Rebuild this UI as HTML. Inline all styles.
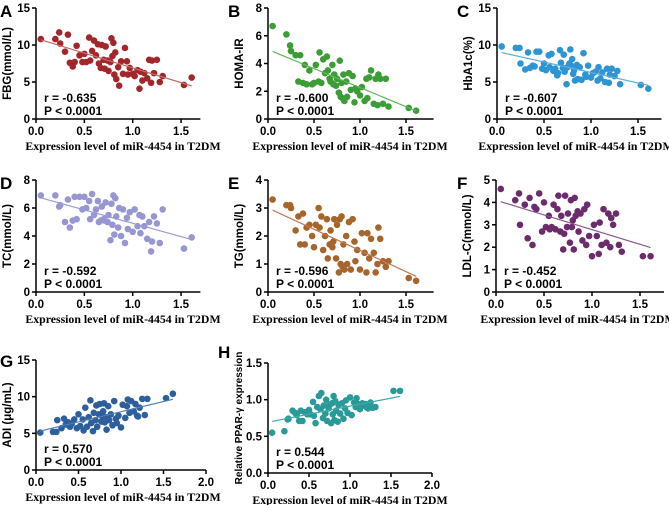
<!DOCTYPE html>
<html><head><meta charset="utf-8"><style>
body{margin:0;background:#fff;}
svg{display:block;}
</style></head><body>
<svg id="fig" width="669" height="505" viewBox="0 0 669 505" xmlns="http://www.w3.org/2000/svg" font-family="Liberation Sans, Arial, sans-serif"></svg>
<script>
const xs=[0.05,0.2,0.24,0.25,0.3,0.33,0.35,0.38,0.4,0.42,0.45,0.48,0.5,0.52,0.55,0.56,0.58,0.6,0.62,0.64,0.65,0.67,0.68,0.7,0.71,0.72,0.74,0.75,0.77,0.78,0.79,0.8,0.81,0.82,0.83,0.85,0.86,0.88,0.9,0.92,0.94,0.95,0.97,1.0,1.02,1.05,1.07,1.08,1.1,1.12,1.15,1.17,1.19,1.2,1.22,1.25,1.28,1.31,1.53,1.61];
const fbg=[10.8,10.8,11.7,10.2,9.1,11.4,7.6,7.1,7.7,9.9,8.6,7.7,8.8,7.7,11.0,7.9,9.2,10.6,8.6,10.1,7.5,6.9,10.0,8.0,6.8,9.8,7.9,6.5,7.7,10.9,8.5,10.3,6.0,9.0,5.4,7.0,4.5,7.8,6.1,9.6,7.8,6.0,6.9,6.1,5.8,6.6,4.1,6.4,5.2,6.2,5.5,8.0,4.9,7.9,6.2,8.0,5.0,5.8,4.6,5.6];
const homa=[6.7,6.1,5.3,4.9,4.6,2.7,4.6,2.6,3.9,2.5,3.5,2.5,2.6,3.9,2.7,4.8,2.6,4.3,3.3,4.5,3.5,2.9,2.7,3.9,2.5,3.2,2.4,2.9,1.9,4.2,1.6,2.6,1.5,3.2,1.3,2.7,1.6,3.3,2.1,3.1,1.2,2.2,2.0,1.7,2.3,1.3,2.9,1.5,3.0,3.5,1.1,2.9,1.0,3.2,2.9,1.1,2.9,0.9,0.8,0.6];
const hba1c=[9.8,9.6,9.6,7.5,6.7,9.0,6.9,7.2,7.1,9.1,9.1,6.8,7.5,6.6,8.6,7.0,8.8,6.5,6.8,5.9,6.2,9.3,7.6,6.9,8.7,6.4,4.7,7.0,7.5,9.4,7.2,8.1,6.1,6.6,5.2,7.3,5.4,7.0,5.3,8.9,6.0,5.7,7.2,5.6,6.2,6.4,5.2,7.0,5.5,6.3,5.0,6.8,4.9,6.0,6.8,5.8,6.5,4.7,4.6,4.1];
const tc=[6.9,6.9,6.1,6.2,5.0,6.6,4.6,5.1,6.8,5.2,6.8,5.9,6.8,6.0,6.5,5.2,7.0,5.5,5.9,6.5,5.0,5.1,6.1,5.2,5.1,6.4,5.0,5.5,3.7,6.3,4.8,6.9,4.1,6.7,5.4,4.6,6.0,4.0,5.9,3.5,5.3,4.5,5.7,4.3,5.9,4.7,5.5,4.2,5.4,4.7,3.8,5.0,2.9,3.6,5.4,4.9,3.5,5.9,3.1,3.9];
const tg=[3.3,3.1,3.1,3.0,2.2,2.7,1.7,2.8,1.7,2.3,2.4,2.0,1.6,2.4,3.0,2.3,2.7,1.5,2.0,2.6,1.2,1.7,2.2,1.6,1.8,2.6,1.2,2.4,0.7,2.6,1.0,2.7,0.9,1.7,0.8,2.0,1.0,2.5,0.8,2.6,1.8,1.1,1.5,0.8,2.1,1.4,0.7,2.1,1.2,1.9,1.4,0.7,1.0,2.3,1.9,1.1,0.9,1.1,0.5,0.4];
const ldl=[4.6,4.1,4.4,3.0,3.9,2.4,4.2,2.1,3.8,3.7,4.4,2.7,4.0,2.9,3.4,2.8,2.9,3.9,2.8,3.7,4.3,2.7,3.4,1.9,2.6,4.3,2.9,3.5,2.2,4.1,2.9,3.2,1.9,4.2,3.4,3.6,2.7,3.5,2.3,3.7,2.1,3.9,2.5,1.6,3.0,2.5,1.7,3.1,2.1,3.7,2.2,3.5,2.0,3.3,3.0,3.5,2.1,1.8,1.6,1.6];
const adi=[5.1,5.2,5.2,6.8,5.7,7.0,6.2,6.5,5.9,6.3,6.9,5.7,7.6,6.0,6.9,5.4,8.5,5.9,7.2,9.5,6.4,5.3,7.8,6.8,8.8,5.9,7.6,9.0,6.6,7.3,8.0,9.1,6.5,7.2,5.5,8.7,6.8,7.6,6.1,9.4,7.0,6.4,7.4,5.8,8.9,7.1,8.7,9.6,7.8,9.4,8.0,9.0,7.4,7.3,8.5,9.7,7.5,9.7,9.8,10.4];
const ppar=[0.55,0.57,0.73,0.74,0.85,0.82,0.79,0.71,0.85,0.71,0.83,0.80,0.86,0.80,0.97,0.78,0.68,0.90,1.05,0.87,1.09,0.75,0.92,0.81,1.00,0.71,0.88,0.93,0.68,0.95,0.80,1.05,0.72,0.98,0.85,0.70,0.93,0.81,0.95,0.74,0.88,0.99,0.82,1.03,0.79,0.96,0.90,1.02,0.94,0.87,0.95,0.92,0.94,0.90,0.88,0.96,0.89,0.90,1.12,1.12];
const panelLetters=["A","B","C","D","E","F","G","H"];
const yTitles=["FBG(mmol/L)","HOMA-IR","HbA1c(%)","TC(mmol/L)","TG(mmol/L)","LDL-C(mmol/L)","ADI (μg/mL)","Relative PPAR-γ expression"];
const rTexts=["r = -0.635","r = -0.600","r = -0.607","r = -0.592","r = -0.596","r = -0.452","r = 0.570","r = 0.544"];
const series=[fbg,homa,hba1c,tc,tg,ldl,adi,ppar];
const yTickSets=[[0,5,10,15],[0,2,4,6,8],[0,5,10,15],[0,2,4,6,8],[0,1,2,3,4],[0,1,2,3,4,5],[0,5,10,15],[0,0.5,1.0,1.5]];
const xTickSets=[[0,0.5,1.0,1.5],[0,0.5,1.0,1.5],[0,0.5,1.0,1.5],[0,0.5,1.0,1.5],[0,0.5,1.0,1.5],[0,0.5,1.0,1.5],[0,0.5,1.0,1.5,2.0],[0,0.5,1.0,1.5,2.0]];

const layout=[
 {ox:36,oy:119,top:8,sx:96.7,xend:1.7,dot:"#a3262b",line:"#c96a6a",lx:0,ly:17,tc:87},
 {ox:268,oy:119,top:8,sx:92,xend:1.8,dot:"#3c9c35",line:"#5fb85a",lx:228,ly:17,tc:82},
 {ox:497,oy:119,top:8,sx:94,xend:1.75,dot:"#2f94d2",line:"#5aaee0",lx:457,ly:17,tc:79},
 {ox:36,oy:292,top:180,sx:96.7,xend:1.7,dot:"#9696d2",line:"#9a9ad6",lx:0,ly:189,tc:87},
 {ox:268,oy:292,top:180,sx:92,xend:1.8,dot:"#a5652b",line:"#c07850",lx:228,ly:189,tc:82},
 {ox:496,oy:292,top:180,sx:96,xend:1.75,dot:"#6c2b6b",line:"#8a5a8a",lx:457,ly:189,tc:82},
 {ox:36,oy:470,top:360,sx:85,xend:2.0,dot:"#2c5f9c",line:"#4f80b8",lx:0,ly:367,tc:87},
 {ox:268,oy:473,top:363,sx:82,xend:2.0,dot:"#2a9a98",line:"#40aaa8",lx:218,ly:358,tc:82}
];
const NS="http://www.w3.org/2000/svg";
const svg=document.getElementById('fig');
function mk(tag,attrs,parent){const e=document.createElementNS(NS,tag);for(const k in attrs)e.setAttribute(k,attrs[k]);(parent||svg).appendChild(e);return e;}
function fmt(v,ticks){const dec=ticks.some(t=>t%1!==0);return dec?v.toFixed(1):String(v);}
layout.forEach((L,i)=>{
 const ys=series[i],yt=yTickSets[i],xt=xTickSets[i];
 const ymax=yt[yt.length-1];
 const X=v=>L.ox+v*L.sx;
 const Y=v=>L.oy-(v/ymax)*(L.oy-L.top);
 const g=mk('g',{});
 
 
 const lt=mk('text',{x:L.lx,y:L.ly,'font-size':17,'font-weight':'bold',fill:'#000'},g);lt.textContent=panelLetters[i];
 
 const ya=mk('line',{x1:L.ox,y1:L.top,x2:L.ox,y2:L.oy,stroke:'#000','stroke-width':1.5},g);
 
 const xa=mk('line',{x1:L.ox,y1:L.oy,x2:X(L.xend),y2:L.oy,stroke:'#000','stroke-width':1.5},g);
 
 yt.forEach(t=>{
  mk('line',{x1:L.ox-4,y1:Y(t),x2:L.ox,y2:Y(t),stroke:'#000','stroke-width':1.5},g);
  const tx=mk('text',{x:L.ox-6,y:Y(t)+4,'font-size':11.5,'font-weight':'bold','text-anchor':'end'},g);tx.textContent=fmt(t,yt);
  
 });
 xt.forEach(t=>{
  mk('line',{x1:X(t),y1:L.oy,x2:X(t),y2:L.oy+4,stroke:'#000','stroke-width':1.5},g);
  const tx=mk('text',{x:X(t),y:L.oy+16,'font-size':11.5,'font-weight':'bold','text-anchor':'middle'},g);tx.textContent=t.toFixed(1);
  
 });
 const yl=mk('text',{transform:`translate(${L.ox-(i===7?26:25)},${(L.top+L.oy)/2}) rotate(-90)`,'font-size':i===7?10:11.5,'font-weight':'bold','text-anchor':'middle'},g);yl.textContent=yTitles[i];
 
 const xl=mk('text',{x:L.ox+L.tc,y:L.oy+31,'font-size':11.8,'font-weight':'bold','text-anchor':'middle','font-family':'Liberation Serif, serif'},g);xl.textContent='Expression level of miR-4454 in T2DM';
 
 const n=xs.length;let mx=0,my=0;for(let k=0;k<n;k++){mx+=xs[k];my+=ys[k];}mx/=n;my/=n;
 let sxy=0,sxx=0;for(let k=0;k<n;k++){sxy+=(xs[k]-mx)*(ys[k]-my);sxx+=(xs[k]-mx)**2;}
 const b=sxy/sxx,a=my-b*mx;const x0=Math.min(...xs),x1=Math.max(...xs);
 for(let k=0;k<n;k++){
  const c=mk('circle',{cx:X(xs[k]),cy:Y(ys[k]),r:3.3,fill:L.dot},g);
  
  
 }
 const rl=mk('line',{x1:X(x0),y1:Y(a+b*x0),x2:X(x1),y2:Y(a+b*x1),stroke:L.line,'stroke-width':1.2},g);
 
 const r1=mk('text',{x:L.ox+8,y:L.oy-17,'font-size':12,'font-weight':'bold'},g);r1.textContent=rTexts[i];
 
 const r2=mk('text',{x:L.ox+8,y:L.oy-4,'font-size':12,'font-weight':'bold'},g);r2.textContent='P < 0.0001';
 
});
</script>
</body></html>
